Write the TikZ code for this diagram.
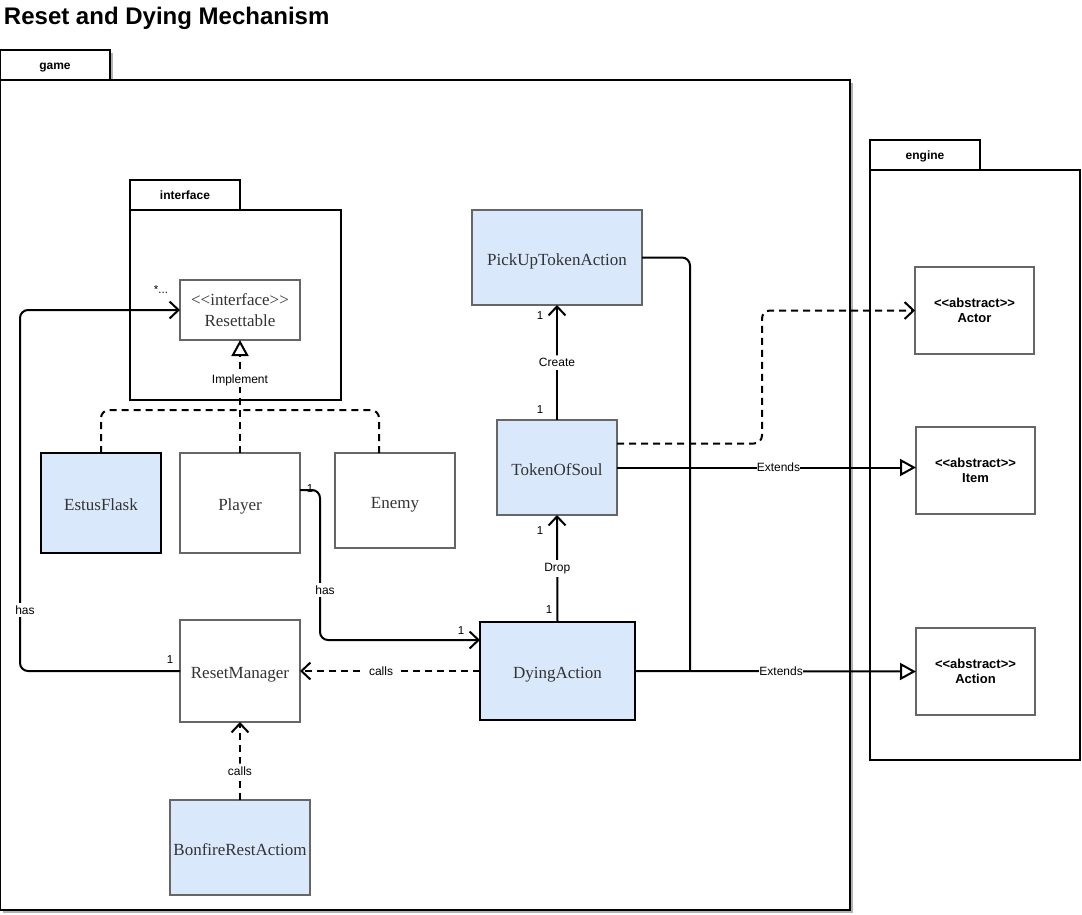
\documentclass[tikz,border=0pt]{standalone}
\usepackage{fontspec}
\setmainfont{Liberation Serif}
\setsansfont{Liberation Sans}
\usepackage{xcolor}
\usepackage{tikz}
\usetikzlibrary{arrows.meta, shapes, shadows, calc, positioning}
\definecolor{boxblue}{HTML}{DAE8FC}
\definecolor{boxgray}{HTML}{666666}
\definecolor{textgray}{HTML}{333333}
\newcommand{\umlstereo}[1]{<\kern0pt<#1>\kern0pt>}

\begin{document}
\begin{tikzpicture}[
	x=1pt, y=-1pt,
	every node/.style = {outer sep=0pt},
	classbox/.style = {shape=rectangle, draw=boxgray, line width=2pt, fill=white,
	align=center, inner sep=2pt, text=textgray,
	font=\fontsize{17}{21}\selectfont},
	oneline/.style = {classbox, text height=15pt, text depth=0pt},
	bluebox/.style = {oneline, fill=boxblue},
	keybox/.style = {bluebox, draw=black, line width=2.5pt},
	abstractbox/.style = {classbox, text=black,
	font=\sffamily\bfseries\fontsize{13}{15.5}\selectfont},
	pkgbody/.style = {shape=rectangle, draw, line width=1.5pt, fill=white},
	pkgtab/.style = {pkgbody, text height=8pt, text depth=0pt,
	font=\sffamily\bfseries\fontsize{12}{14}\selectfont},
	pkgshadow/.style = {drop shadow={shadow xshift=2.5pt, shadow yshift=-2.5pt, fill=black!30, opacity=1}},
	lbl/.style = {fill=white, inner xsep=5pt, inner ysep=3pt, font=\sffamily\fontsize{12}{14}\selectfont},
	extlbl/.style = {lbl, inner sep=0pt},
	mult/.style = {inner sep=0pt, font=\sffamily\fontsize{11.5}{13}\selectfont},
	assoc/.style = {draw, line width=2pt, rounded corners=8pt,
	-{Straight Barb[length=9pt,width=17pt]}},
	dep/.style = {assoc, dash pattern=on 7pt off 5pt},
	plainline/.style = {draw, line width=2pt, rounded corners=8pt},
	dashline/.style = {plainline, dash pattern=on 7pt off 5pt},
	extends/.style = {draw, line width=2pt,
	-{Triangle[open,length=16pt,width=17pt,fill=white]}},
	impl/.style = {extends, dash pattern=on 7pt off 5pt}
]
\useasboundingbox (0,0) rectangle (1082,914);

\node[anchor=base west, inner sep=0pt, font=\sffamily\bfseries\fontsize{24}{28}\selectfont] (title) at (4,24) {Reset and Dying Mechanism};

\node[pkgtab, pkgshadow, minimum width=110pt, minimum height=30pt] (gametab) at (55,65) {game};
\node[pkgbody, pkgshadow, minimum width=850pt, minimum height=830pt] (gamepkg) at (425,495) {};

\node[pkgtab, minimum width=110pt, minimum height=30pt] (ifacetab) at (185,195) {interface};
\node[pkgbody, minimum width=211pt, minimum height=190pt] (ifacepkg) at (235.5,305) {};

\node[pkgtab, minimum width=110pt, minimum height=30pt] (enginetab) at (925,155) {engine};
\node[pkgbody, minimum width=210pt, minimum height=590pt] (enginepkg) at (975,465) {};

\node[classbox, minimum width=120pt, minimum height=60pt] (resettable) at (240,310) {\umlstereo{interface}\\Resettable};
\node[keybox, minimum width=120pt, minimum height=100pt] (estus) at (101,503) {EstusFlask};
\node[oneline, minimum width=120pt, minimum height=100pt] (player) at (240,503) {Player};
\node[oneline, minimum width=120pt, minimum height=95pt] (enemy) at (395,500.5) {Enemy};
\node[oneline, minimum width=120pt, minimum height=102pt] (resetmgr) at (240,671) {ResetManager};
\node[bluebox, minimum width=140pt, minimum height=95pt] (bonfire) at (240,847.5) {BonfireRestActiom};
\node[keybox, minimum width=155pt, minimum height=98pt] (dying) at (557.5,671) {DyingAction};
\node[bluebox, minimum width=120pt, minimum height=95pt] (token) at (557,467.5) {TokenOfSoul};
\node[bluebox, minimum width=170pt, minimum height=95pt] (pickup) at (557,257.5) {PickUpTokenAction};

\node[abstractbox, minimum width=119pt, minimum height=87pt] (actor) at (974.5,310.5) {\umlstereo{abstract}\\Actor};
\node[abstractbox, minimum width=119pt, minimum height=87pt] (item) at (975.5,470.5) {\umlstereo{abstract}\\Item};
\node[abstractbox, minimum width=119pt, minimum height=87pt] (action) at (975.5,671.5) {\umlstereo{abstract}\\Action};

\coordinate (impljoin) at (240,410);
\coordinate (rmbend) at (20,500);
\coordinate (hasbend) at (320,560);
\coordinate (actbend) at (762,380);
\coordinate (extjoin) at (690,671);

\path[dashline] (estus.north) |- (impljoin);
\path[dashline] ([xshift=-16pt]enemy.north) |- (impljoin);
\path[impl] (player.north) -- node[lbl, inner ysep=1pt, pos=0.64] {Implement} (resettable.south);

\path[assoc] (resetmgr.west) -| (rmbend) |- (resettable.west);
\node[lbl] (hasleft) at (25,610) {has};
\path[assoc] ([yshift=13pt]player.east) -| (hasbend) |- ([yshift=31pt]dying.west);
\node[lbl] (hasplayer) at (325,590) {has};

\path[dep] (dying.west) -- node[lbl, pos=0.55] {calls} (resetmgr.east);
\path[dep] (bonfire.north) -- node[lbl, pos=0.37] {calls} (resetmgr.south);

\path[assoc] (dying.north) -- node[lbl, pos=0.5] {Drop} (token.south);
\path[assoc] (token.north) -- node[lbl, pos=0.5] {Create} (pickup.south);

\path[plainline] (pickup.east) -| (extjoin);
\path[extends] (dying.east) -- node[extlbl, pos=0.52] {Extends} (action.west);
\path[extends] (token.east) -- node[extlbl, pos=0.54] {Extends} (token.east -| item.west);
\path[dep] ([yshift=24pt]token.east) -| (actbend) |- (actor.west);

\node[mult] (mresettable) at (161,290) {*...};
\node[mult] (mresetmgr) at (170,660) {1};
\node[mult] (mplayer) at (310,489) {1};
\node[mult] (mdyingin) at (461,631) {1};
\node[mult] (mtokenbottom) at (540,531) {1};
\node[mult] (mdyingtop) at (549,610) {1};
\node[mult] (mpickup) at (540,316) {1};
\node[mult] (mtokentop) at (540,410) {1};
\end{tikzpicture}
\end{document}
